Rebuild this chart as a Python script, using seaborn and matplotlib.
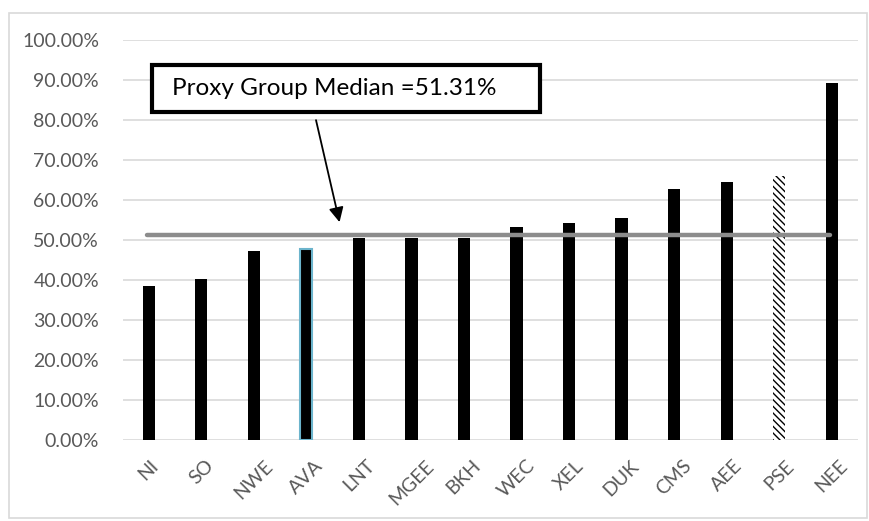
import matplotlib
matplotlib.use("Agg")
import matplotlib.pyplot as plt
import seaborn as sns
import pandas as pd
from matplotlib.patches import Rectangle
from matplotlib.ticker import FuncFormatter

# datos
empresas = ["NI", "SO", "NWE", "AVA", "LNT", "MGEE", "BKH", "WEC", "XEL", "DUK", "CMS", "AEE", "PSE", "NEE"]
valores = [38.5, 40.2, 47.4, 47.7, 50.5, 50.5, 50.5, 53.2, 54.3, 55.6, 62.9, 64.5, 66.0, 89.4]
mediana = 51.31
etiqueta = "Proxy Group Median =51.31%"

df = pd.DataFrame({"empresa": empresas, "valor": valores})

sns.set_theme(style="white")
plt.rcParams["font.family"] = ["Lato", "DejaVu Sans"]
plt.rcParams["hatch.linewidth"] = 1.0

fig = plt.figure(figsize=(8.7, 5.21), dpi=100)
ax = fig.add_axes([0.141, 0.155, 0.845, 0.768])

sns.barplot(data=df, x="empresa", y="valor", color="black", width=0.23,
            saturation=1, ax=ax, zorder=2)

# AVA con borde azul claro, PSE rayado
for barra, emp in zip(ax.patches, empresas):
    barra.set_linewidth(0)
    if emp == "AVA":
        barra.set_edgecolor("#6cb4cc")
        barra.set_linewidth(1.5)
    if emp == "PSE":
        barra.set_facecolor("white")
        barra.set_edgecolor("black")
        barra.set_hatch("\\\\\\\\\\")
        barra.set_linewidth(0)

ax.axhline(mediana, xmin=0.033, xmax=0.962, color="#8c8c8c", lw=3.2,
           solid_capstyle="round", zorder=3)

ax.set_xlim(-0.5, 13.5)
ax.set_ylim(0, 100)
ax.set_yticks(range(0, 101, 10))
ax.yaxis.set_major_formatter(FuncFormatter(lambda v, p: f"{v:.2f}%"))
ax.grid(axis="y", color="#d9d9d9", lw=1.2, zorder=0)
ax.set_axisbelow(True)
for s in ax.spines.values():
    s.set_visible(False)
ax.set_xlabel("")
ax.set_ylabel("")
ax.tick_params(axis="y", length=0, pad=17, labelsize=14, labelcolor="#595959")
ax.tick_params(axis="x", length=0, pad=12, labelsize=14, labelcolor="#595959")
plt.setp(ax.get_xticklabels(), rotation=45, ha="center", va="top")

# cuadro de texto y flecha hacia la mediana
ax.add_patch(Rectangle((0.0395, 0.82), 0.528, 0.1175, transform=ax.transAxes,
                       fc="white", ec="black", lw=3, zorder=5, clip_on=False))
ax.text(0.288, 0.879, etiqueta, transform=ax.transAxes, ha="center", va="center",
        fontsize=17.5, color="black", zorder=6)
ax.annotate("", xy=(3.63, 54.5), xycoords="data",
            xytext=(0.263, 0.80), textcoords="axes fraction",
            arrowprops=dict(arrowstyle="-|>", color="black", lw=1.3,
                            mutation_scale=22, shrinkA=0, shrinkB=0),
            zorder=5)

fig.patches.append(Rectangle((0.0103, 0.0058), 0.986, 0.969, transform=fig.transFigure,
                             fill=False, ec="#d9d9d9", lw=1.2))

fig.savefig("out.png", dpi=100)
